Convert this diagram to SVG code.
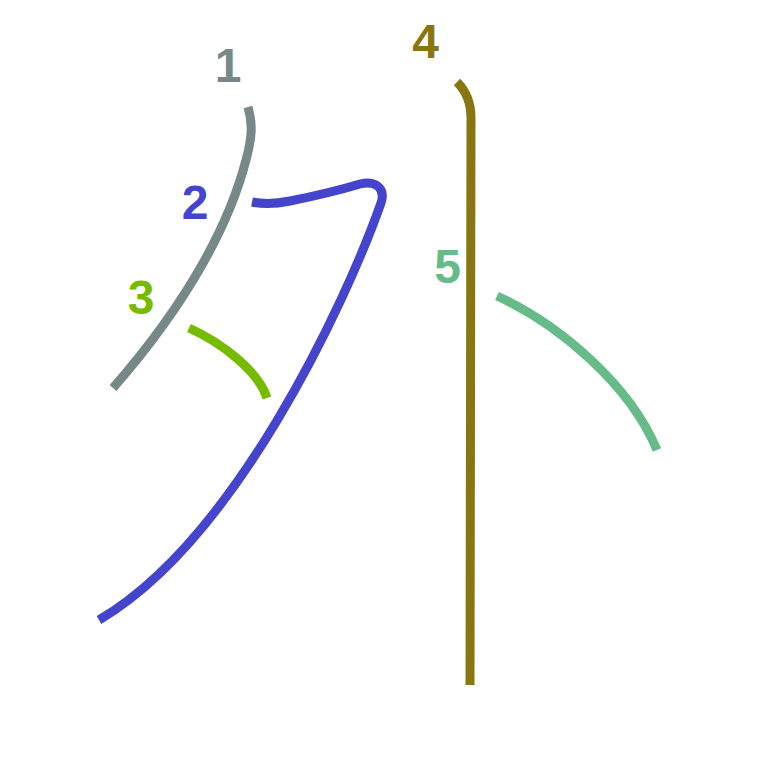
<svg xmlns="http://www.w3.org/2000/svg" width="763" height="763" viewBox="0 0 763 763">
<style>
.s{fill:none;stroke-width:9;stroke-linecap:butt;stroke-linejoin:round}
.n{font-family:"Liberation Sans",Arial,sans-serif;font-weight:bold;font-size:48px;text-anchor:middle}
</style>
<rect width="763" height="763" fill="#ffffff"/>
<g id="strokes">
<g id="s1"><path class="s" stroke="#778888" d="M248,107 C253,124 252,138 246,160 C230,222 190,300 113,388"/></g>
<g id="s2"><path class="s" stroke="#4444cc" d="M252,202 C262,204 275,204 290,201 C315,196 340,190 360,184 C375,180 386,188 381,203 C345,305 235,540 99,620"/></g>
<g id="s3"><path class="s" stroke="#77bb00" d="M189,328 C220,342 258,370 267,398"/></g>
<g id="s4"><path class="s" stroke="#887711" d="M457,82 C465,90 471,101 471,118 L470,685"/></g>
<g id="s5"><path class="s" stroke="#66bb88" d="M497,296 C560,325 630,385 657,450"/></g>
</g>
<g id="labels">
<text class="n" x="228" y="82" fill="#778888">1</text>
<text class="n" x="195" y="219" fill="#4444cc">2</text>
<text class="n" x="141" y="314" fill="#77bb00">3</text>
<text class="n" x="425.5" y="58" fill="#887711">4</text>
<text class="n" x="447.5" y="283" fill="#66bb88">5</text>
</g>
</svg>
